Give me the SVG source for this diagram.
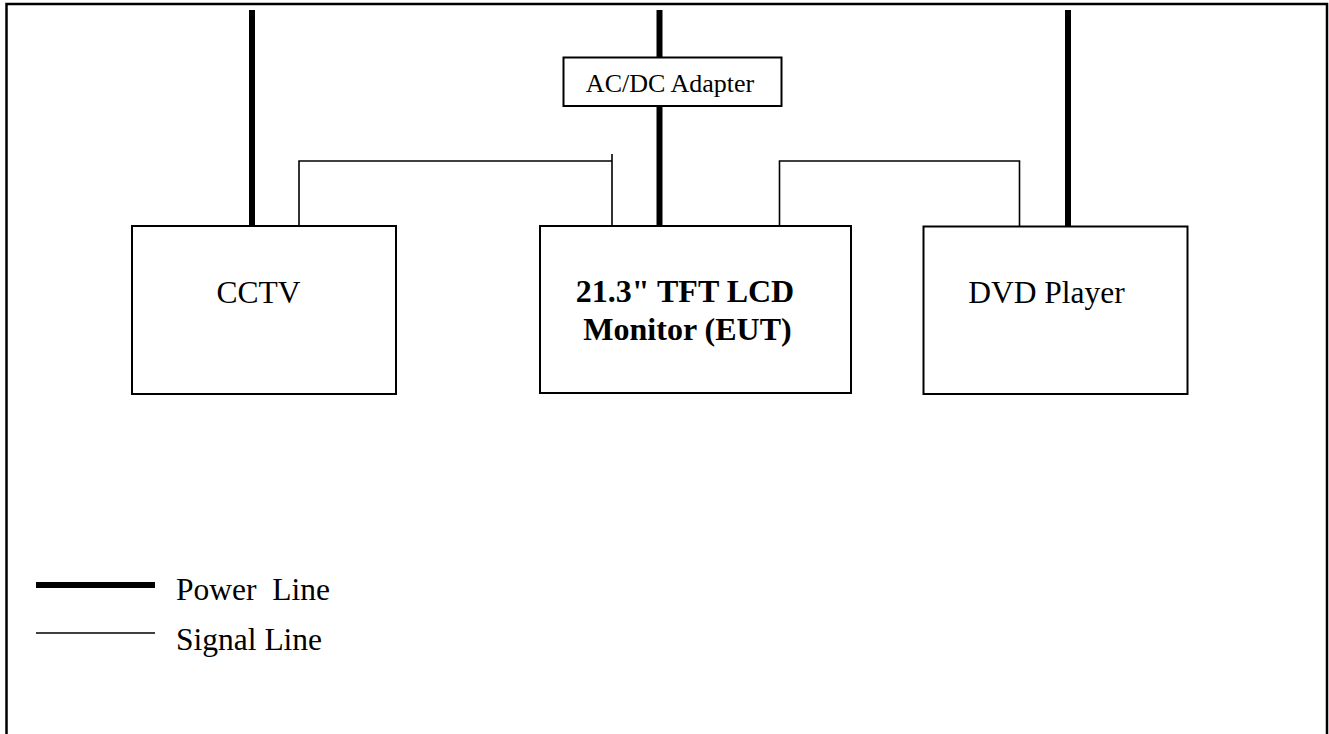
<svg xmlns="http://www.w3.org/2000/svg" width="1329" height="734" viewBox="0 0 1329 734">
<style>
.box{fill:#fff;stroke:#000;stroke-width:2}
.pwr{stroke:#000;stroke-width:6;fill:none}
.sig{stroke:#000;stroke-width:1.6;fill:none}
.t{font-family:"Liberation Serif","Times New Roman",serif;fill:#000;text-anchor:middle}
.lg{font-family:"Liberation Serif","Times New Roman",serif;fill:#000;font-size:31.5px}
</style>
<rect x="0" y="0" width="1329" height="734" fill="#fff"/>
<path d="M6.5 740 V4 H1327 V740" fill="none" stroke="#000" stroke-width="2.5"/>
<g id="connectors">
<line class="pwr" x1="252" y1="10" x2="252" y2="226"/>
<line class="pwr" x1="659.5" y1="10" x2="659.5" y2="58"/>
<line class="pwr" x1="659.5" y1="106" x2="659.5" y2="226"/>
<line class="pwr" x1="1068" y1="10" x2="1068" y2="226"/>
<polyline class="sig" points="299,227 299,161 612,161"/>
<line class="sig" x1="612" y1="154" x2="612" y2="227"/>
<polyline class="sig" points="779.5,227 779.5,161 1019.5,161 1019.5,227"/>
</g>
<g id="adapter">
<rect class="box" x="563.5" y="57.5" width="218" height="48.5"/>
<text class="t" x="670" y="92" font-size="26">AC/DC Adapter</text>
</g>
<g id="cctv">
<rect class="box" x="132" y="226" width="264" height="168"/>
<text class="t" x="258.5" y="303" font-size="31.5">CCTV</text>
</g>
<g id="eut">
<rect class="box" x="540" y="226" width="311" height="167"/>
<text class="t" x="685" y="302" font-size="32" font-weight="bold">21.3" TFT LCD</text>
<text class="t" x="687.5" y="340" font-size="32" font-weight="bold">Monitor (EUT)</text>
</g>
<g id="dvd">
<rect class="box" x="923.5" y="226.5" width="264" height="167.5"/>
<text class="t" x="1046.5" y="303" font-size="31.5">DVD Player</text>
</g>
<g id="legend">
<line class="pwr" x1="36" y1="585" x2="155" y2="585"/>
<line class="sig" x1="36" y1="633" x2="155" y2="633"/>
<text class="lg" x="176" y="600" xml:space="preserve">Power  Line</text>
<text class="lg" x="176" y="650">Signal Line</text>
</g>
</svg>
